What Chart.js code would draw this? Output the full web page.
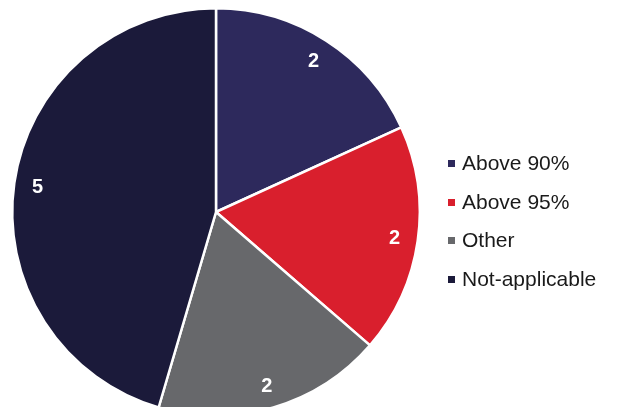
<!DOCTYPE html>
<html>
<head>
<meta charset="utf-8">
<script src="https://cdn.jsdelivr.net/npm/chart.js@4/dist/chart.umd.min.js"></script>
<style>
  html, body { margin: 0; padding: 0; background: #fff; width: 618px; height: 407px; overflow: hidden; }
  #wrap { position: absolute; left: 0; top: 0; width: 618px; height: 424px; }
  #legend { position: absolute; left: 448px; top: 145px; font-family: "Liberation Sans", Arial, sans-serif; font-size: 21px; color: #1a1a1a; }
  .item { position: relative; height: 38.5px; line-height: 36px; padding-left: 14px; white-space: nowrap; }
  .swatch { position: absolute; left: 0; top: 15px; width: 7px; height: 7px; }
</style>
</head>
<body>
<div id="wrap"><canvas id="c" width="618" height="424"></canvas></div>
<div id="legend"></div>
<script>
const categories = ["Above 90%", "Above 95%", "Other", "Not-applicable"];
const counts = [2, 2, 2, 5];
const colors = ["#2d295c", "#d91f2d", "#67686b", "#1b1a3a"];

// White value labels placed inside each slice
const sliceLabels = {
  id: "sliceLabels",
  afterDatasetsDraw(chart) {
    const ctx = chart.ctx;
    const meta = chart.getDatasetMeta(0);
    ctx.save();
    ctx.fillStyle = "#ffffff";
    ctx.font = "bold 20px 'Liberation Sans', Arial, sans-serif";
    ctx.textAlign = "center";
    ctx.textBaseline = "middle";
    meta.data.forEach((arc, i) => {
      const p = arc.getProps(["x", "y", "startAngle", "endAngle", "outerRadius"], true);
      const mid = (p.startAngle + p.endAngle) / 2;
      const r = p.outerRadius * 0.885;
      ctx.fillText(String(counts[i]), p.x + Math.cos(mid) * r, p.y + Math.sin(mid) * r + 1);
    });
    ctx.restore();
  }
};

new Chart(document.getElementById("c"), {
  type: "pie",
  data: {
    labels: categories,
    datasets: [{
      data: counts,
      backgroundColor: colors,
      borderColor: "#ffffff",
      borderWidth: 2.5
    }]
  },
  options: {
    responsive: false,
    animation: false,
    layout: { padding: { left: 11, top: 7, right: 197, bottom: 7 } },
    plugins: {
      legend: { display: false },
      tooltip: { enabled: false }
    }
  },
  plugins: [sliceLabels]
});

// Legend built from the same category and colour arrays
const legend = document.getElementById("legend");
categories.forEach((name, i) => {
  const item = document.createElement("div");
  item.className = "item";
  const sw = document.createElement("span");
  sw.className = "swatch";
  sw.style.background = colors[i];
  item.appendChild(sw);
  item.appendChild(document.createTextNode(name));
  legend.appendChild(item);
});
</script>
</body>
</html>
